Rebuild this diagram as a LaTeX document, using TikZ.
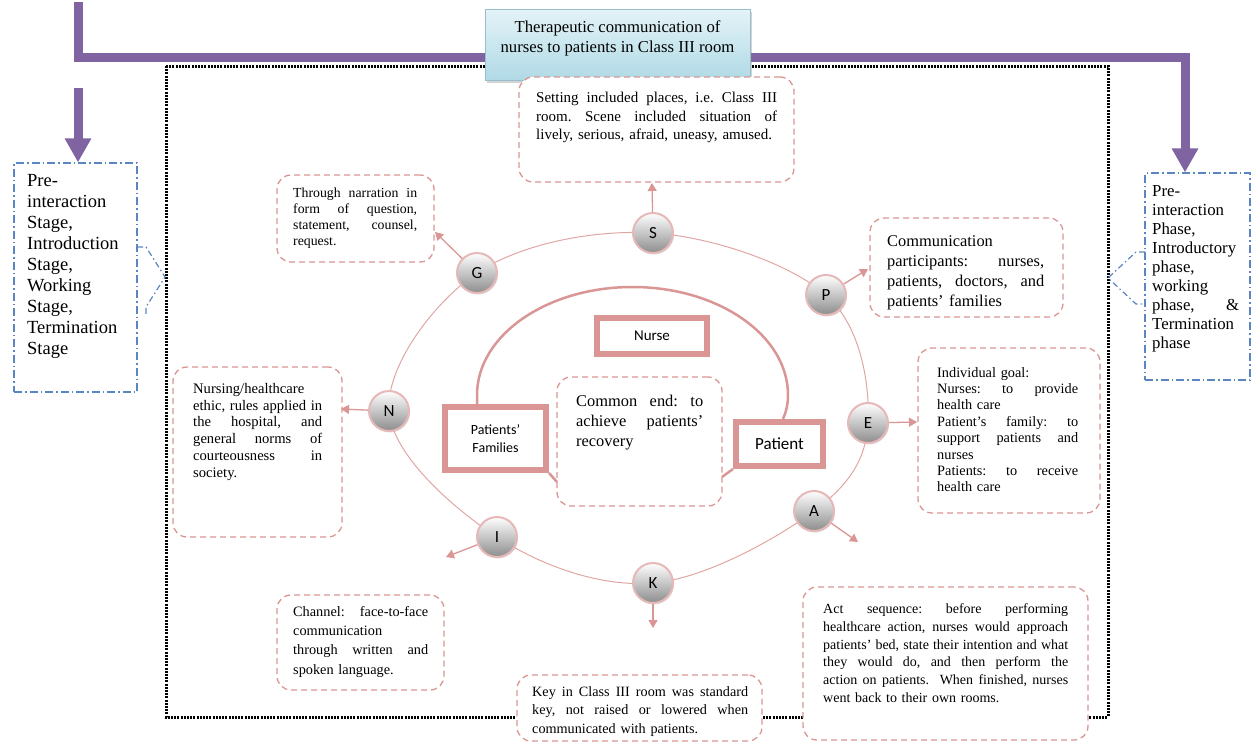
\documentclass[tikz,border=0pt]{standalone}
\usepackage{fontspec}
\setmainfont{Liberation Serif}
\newfontfamily\calib{Carlito}
\usetikzlibrary{arrows.meta,shadows,calc}
\definecolor{pinkc}{RGB}{217,150,148}
\definecolor{pinkl}{RGB}{224,166,164}
\definecolor{ballb}{RGB}{230,184,183}
\definecolor{purp}{RGB}{128,100,162}
\definecolor{bluec}{RGB}{92,134,194}
\definecolor{tealt}{RGB}{228,243,247}
\definecolor{tealb}{RGB}{176,218,230}
\definecolor{tealborder}{RGB}{150,190,205}
\frenchspacing
\newcommand\J[1]{\makebox[\hsize][s]{\spaceskip=0pt\xspaceskip=0pt\relax #1}}
\newcommand\fsz[2]{\fontsize{#1}{#2}\selectfont}
\setlength\parindent{0pt}
\begin{document}
\begin{tikzpicture}[x=1pt,y=-1pt,
  dotframe/.style={draw=black, line width=3pt, dash pattern=on 2pt off 1.2pt},
  purpline/.style={draw=purp, line width=9pt},
  purptip/.style={-{Triangle[length=24pt,width=25pt]}},
  dbox/.style={draw=pinkc, line width=1.3pt, dash pattern=on 6pt off 4pt, rounded corners=14pt, fill=white, inner sep=0pt},
  bbox/.style={draw=bluec, line width=1.2pt, dash pattern=on 8pt off 3pt on 1.5pt off 3pt, inner sep=0pt},
  bline/.style={draw=bluec, line width=1.2pt, dash pattern=on 6pt off 3pt on 1.5pt off 3pt},
  txt/.style={anchor=north west, inner sep=0pt, align=left},
  ball/.style={circle, draw=ballb, line width=2pt, minimum size=40pt, inner sep=0pt,
    top color=white, bottom color=black!45, font=\calib\fsz{17}{17},
    drop shadow={opacity=0.25, shadow xshift=1pt, shadow yshift=-1.5pt}},
  pkarr/.style={draw=pinkc, line width=1.3pt, -{Triangle[length=8pt,width=9pt]}},
  ellip/.style={draw=pinkl, line width=1pt},
  inarc/.style={draw=pinkc, line width=2.5pt},
  dblbox/.style={draw=pinkc, line width=4.5pt, fill=white, inner sep=0pt, align=center},
  titlebox/.style={draw=tealborder, line width=1pt, top color=tealt, bottom color=tealb,
    drop shadow={opacity=0.35, shadow xshift=2pt, shadow yshift=-3pt}}
]
\useasboundingbox (0,0) rectangle (1251,742);

% dotted frame
\draw[dotframe] (166,66) rectangle (1108,717);

% blue stage boxes
\node[bbox, minimum width=123, minimum height=229] (LB) at (75.5,277.5) {};
\node[bbox, minimum width=105, minimum height=207] (RB) at (1197.5,276.5) {};
\node[txt, font=\fsz{18.5}{20.9}] (LBt) at (27,174.6) {Pre-\\interaction\\Stage,\\Introduction\\Stage,\\Working\\Stage,\\Termination\\Stage};
\node[txt, text width=87, font=\fsz{16.8}{19}] (RBt) at (1152,185.3) {Pre-\\interaction\\Phase,\\Introductory\\phase,\\working\\\J{phase, \hfill \&}\\Termination\\phase};
\coordinate (lTip) at (165,277);
\coordinate (rTip) at (1108,278);
\draw[bline] (137,247) -- (146,247) -- (lTip) -- (146,307) -- (146,314);
\draw[bline] (1145,252) -- (1136,252) -- (rTip) -- (1136,304) -- (1145,304);

% purple lines
\coordinate (pTop) at (78,2);
\coordinate (pCorner) at (78,57);
\coordinate (pRight) at (1185,57);
\coordinate (pLeft) at (78,88);
\draw[purpline, purptip] (pTop) -- (pCorner) -- (pRight) -- (pRight |- RB.north);
\draw[purpline, purptip] (pLeft) -- (pLeft |- LB.north);

% outer ellipse through the circles
\coordinate (cS) at (653,233);
\coordinate (cP) at (826,295);
\coordinate (cE) at (868,423);
\coordinate (cA) at (814,511);
\coordinate (cK) at (653,583);
\coordinate (cI) at (497,537);
\coordinate (cN) at (389,411);
\coordinate (cG) at (477,273);
\draw[ellip] plot[smooth cycle, tension=0.6] coordinates {(cS) (cP) (cE) (cA) (cK) (cI) (cN) (cG)};

% inner arc
\draw[inarc] (477,404) -- (477,395) .. controls (477,335.4) and (546.7,287) .. (632.5,287)
  .. controls (718.3,287) and (788,335.4) .. (788,395) .. controls (788,405) and (786,412) .. (783,419);

% title
\node[titlebox, minimum width=265, minimum height=71] (T) at (617.5,44.5) {};
\node[anchor=north, inner sep=0pt, align=center, font=\fsz{16.7}{20}] (Tt) at (617.5,20.3) {Therapeutic communication of\\nurses to patients in Class III room};

% dashed boxes
\node[dbox, minimum width=275, minimum height=105] (bS) at (656.5,129.5) {};
\node[dbox, minimum width=157, minimum height=87] (bG) at (355.5,218.5) {};
\node[dbox, minimum width=193, minimum height=99] (bP) at (966.5,267.5) {};
\node[dbox, minimum width=182, minimum height=165] (bE) at (1009,430.5) {};
\node[dbox, minimum width=169, minimum height=170] (bN) at (257.5,452) {};
\node[dbox, minimum width=165, minimum height=129] (bC) at (639.5,441.5) {};
\node[dbox, minimum width=167, minimum height=95] (bCh) at (360.5,642.5) {};
\node[dbox, minimum width=245, minimum height=66] (bK) at (639.5,708) {};
\node[dbox, minimum width=285, minimum height=153] (bA) at (945.5,663.5) {};

\node[txt, text width=241, font=\fsz{15}{18.5}] (tS) at (536,92) {\J{Setting included places, i.e. Class III}\\\J{room. Scene included situation of}\\lively, serious, afraid, uneasy, amused.};
\node[txt, text width=124, font=\fsz{13.8}{16}] (tG) at (293,187.5) {\J{Through narration in}\\\J{form of question,}\\\J{statement, counsel,}\\request.};
\node[txt, text width=157, font=\fsz{16.4}{20}] (tP) at (887,235.5) {Communication\\\J{participants: nurses,}\\\J{patients, doctors, and}\\patients’ families};
\node[txt, text width=141, font=\fsz{14.3}{16.4}] (tE) at (937,367) {Individual goal:\\\J{Nurses: to provide}\\health care\\\J{Patient’s family: to}\\\J{support patients and}\\nurses\\\J{Patients: to receive}\\health care};
\node[txt, text width=129, font=\fsz{14.6}{16.8}] (tN) at (193,383) {Nursing/healthcare\\\J{ethic, rules applied in}\\\J{the hospital, and}\\\J{general norms of}\\\J{courteousness in}\\society.};
\node[txt, text width=127, font=\fsz{16.4}{20}] (tC) at (576,394.5) {\J{Common end: to}\\\J{achieve patients’}\\recovery};
\node[txt, text width=135, font=\fsz{14.3}{19.3}] (tCh) at (293,606) {\J{Channel: face-to-face}\\communication\\\J{through written and}\\spoken language.};
\node[txt, text width=216, font=\fsz{14.2}{18.5}] (tK) at (532,686) {\J{Key in Class III room was standard}\\\J{key, not raised or lowered when}\\communicated with patients.};
\node[txt, text width=245, font=\fsz{14}{17.8}] (tA) at (823,603.5) {\J{Act sequence: before performing}\\\J{healthcare action, nurses would approach}\\\J{patients’ bed, state their intention and what}\\\J{they would do, and then perform the}\\\J{action on patients.\ \ When finished, nurses}\\went back to their own rooms.};

% central boxes
\node[dblbox, minimum width=111.5, minimum height=37.5, font=\calib\fsz{15}{18}] (Nu) at (652,336) {Nurse};
\node[dblbox, minimum width=102.5, minimum height=64.5, font=\calib\fsz{14}{18}] (PF) at (495.5,438.5) {Patients’\\Families};
\node[dblbox, minimum width=88.5, minimum height=45.5, font=\calib\fsz{17}{20}] (PT) at (779.5,444) {Patient};
\foreach \n in {Nu,PF,PT}
  \draw[pinkc, line width=1.3pt] ([shift={(5,5)}]\n.north west) rectangle ([shift={(-5,-5)}]\n.south east);
\draw[pinkc, line width=2.5pt] (PF.south east) -- (557,482);
\draw[pinkc, line width=2.5pt] (PT.south west) -- (722,477);

% circles
\node[ball] (S) at (cS) {S};
\node[ball] (P) at (cP) {P};
\node[ball] (E) at (cE) {E};
\node[ball] (A) at (cA) {A};
\node[ball] (K) at (cK) {K};
\node[ball] (I) at (cI) {I};
\node[ball] (N) at (cN) {N};
\node[ball] (G) at (cG) {G};

% arrows
\coordinate (aS) at (652,183);
\coordinate (aG) at (435,232);
\coordinate (aP) at (868,269);
\coordinate (aE) at (917,422);
\coordinate (aA) at (858,542);
\coordinate (aK) at (653,628);
\coordinate (aI) at (446,557);
\coordinate (aN) at (341,409);
\draw[pkarr] (S) -- (aS);
\draw[pkarr] (G) -- (aG);
\draw[pkarr] (P) -- (aP);
\draw[pkarr] (E) -- (aE);
\draw[pkarr] (A) -- (aA);
\draw[pkarr] (K) -- (aK);
\draw[pkarr] (I) -- (aI);
\draw[pkarr] (N) -- (aN);
\end{tikzpicture}
\end{document}
